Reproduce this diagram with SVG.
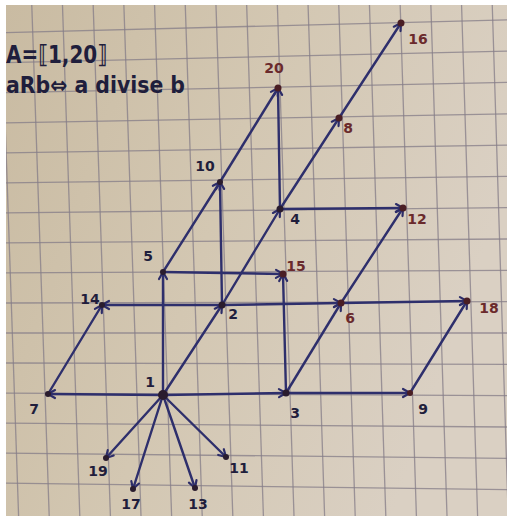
<svg xmlns="http://www.w3.org/2000/svg" width="507" height="516" viewBox="0 0 507 516">
<defs>
  <linearGradient id="paper" x1="0" y1="0" x2="1" y2="0.35">
    <stop offset="0" stop-color="#c9bba2"/>
    <stop offset="0.5" stop-color="#d3c7b2"/>
    <stop offset="1" stop-color="#dad0c3"/>
  </linearGradient>
  <clipPath id="sheet"><rect x="6" y="5" width="501" height="511"/></clipPath>
  <marker id="arr" viewBox="-10 -6 12 12" markerWidth="12" markerHeight="12" refX="0" refY="0" orient="auto" markerUnits="userSpaceOnUse">
    <path d="M-7,-4 L0,0 L-7,4" fill="none" stroke="#2c2c68" stroke-width="2.2" stroke-linecap="round" stroke-linejoin="round"/>
  </marker>
  <style>
    .grid line { stroke: #857d88; stroke-width: 1.3; opacity: 0.75; }
    .edge { stroke: #2e2f6c; stroke-width: 2.4; fill: none; stroke-linecap: round; marker-end: url(#arr); }
    .dot { fill: #2a1c2e; }
    .dotr { fill: #4a1e24; }
    .lbl { font-family: "DejaVu Sans", "Liberation Sans", sans-serif; font-size: 14px; font-weight: bold; fill: #1f1e3c; text-anchor: middle; }
    .lblr { fill: #6a2a2c; }
    .title { font-family: "DejaVu Sans", "Liberation Sans", sans-serif; font-weight: bold; fill: #1f1e3c; }
  </style>
</defs>
<rect x="0" y="0" width="507" height="516" fill="#ffffff"/>
<g clip-path="url(#sheet)">
  <rect x="6" y="5" width="501" height="511" fill="url(#paper)"/>
  <g class="grid" id="grid">
    <line x1="0.9" y1="0" x2="18.6" y2="516"/>
    <line x1="31.6" y1="0" x2="49.2" y2="516"/>
    <line x1="62.3" y1="0" x2="79.8" y2="516"/>
    <line x1="93.0" y1="0" x2="110.4" y2="516"/>
    <line x1="123.7" y1="0" x2="141.0" y2="516"/>
    <line x1="154.4" y1="0" x2="171.6" y2="516"/>
    <line x1="185.1" y1="0" x2="202.2" y2="516"/>
    <line x1="215.8" y1="0" x2="232.8" y2="516"/>
    <line x1="246.5" y1="0" x2="263.4" y2="516"/>
    <line x1="277.2" y1="0" x2="294.0" y2="516"/>
    <line x1="307.9" y1="0" x2="324.6" y2="516"/>
    <line x1="338.6" y1="0" x2="355.2" y2="516"/>
    <line x1="369.3" y1="0" x2="385.8" y2="516"/>
    <line x1="400.0" y1="0" x2="416.4" y2="516"/>
    <line x1="430.7" y1="0" x2="447.0" y2="516"/>
    <line x1="461.4" y1="0" x2="477.6" y2="516"/>
    <line x1="492.1" y1="0" x2="508.2" y2="516"/>
    <line x1="0" y1="32.8" x2="507" y2="19.8"/>
    <line x1="0" y1="62.8" x2="507" y2="51.1"/>
    <line x1="0" y1="92.8" x2="507" y2="82.4"/>
    <line x1="0" y1="122.9" x2="507" y2="113.8"/>
    <line x1="0" y1="152.9" x2="507" y2="145.1"/>
    <line x1="0" y1="182.9" x2="507" y2="176.4"/>
    <line x1="0" y1="212.9" x2="507" y2="207.7"/>
    <line x1="0" y1="242.9" x2="507" y2="239.0"/>
    <line x1="0" y1="273.0" x2="507" y2="270.4"/>
    <line x1="0" y1="303.0" x2="507" y2="301.7"/>
    <line x1="0" y1="333.0" x2="507" y2="333.0"/>
    <line x1="0" y1="363.0" x2="507" y2="364.3"/>
    <line x1="0" y1="393.0" x2="507" y2="395.6"/>
    <line x1="0" y1="423.1" x2="507" y2="427.0"/>
    <line x1="0" y1="453.1" x2="507" y2="458.3"/>
    <line x1="0" y1="483.1" x2="507" y2="489.6"/>
  </g>
  <g id="title">
    <text class="title" x="6" y="63" font-size="25" textLength="101" lengthAdjust="spacingAndGlyphs">A=⟦1,20⟧</text>
    <text class="title" x="6" y="93" font-size="23" textLength="179" lengthAdjust="spacingAndGlyphs">aRb⇔ a divise b</text>
  </g>
</g>
<g id="connectors">
  <line class="edge" x1="163" y1="395" x2="48" y2="394"/>
  <line class="edge" x1="163" y1="395" x2="286" y2="393"/>
  <line class="edge" x1="163" y1="395" x2="222" y2="305"/>
  <line class="edge" x1="163" y1="395" x2="163" y2="272"/>
  <line class="edge" x1="163" y1="395" x2="226" y2="457"/>
  <line class="edge" x1="163" y1="395" x2="195" y2="488"/>
  <line class="edge" x1="163" y1="395" x2="133" y2="489"/>
  <line class="edge" x1="163" y1="395" x2="106" y2="458"/>
  <line class="edge" x1="222" y1="305" x2="102" y2="305"/>
  <line class="edge" x1="222" y1="305" x2="341" y2="303"/>
  <line class="edge" x1="222" y1="305" x2="220" y2="182"/>
  <line class="edge" x1="222" y1="305" x2="280" y2="209"/>
  <line class="edge" x1="286" y1="393" x2="283" y2="274"/>
  <line class="edge" x1="286" y1="393" x2="341" y2="303"/>
  <line class="edge" x1="286" y1="393" x2="410" y2="393"/>
  <line class="edge" x1="280" y1="209" x2="339" y2="118"/>
  <line class="edge" x1="280" y1="209" x2="403" y2="208"/>
  <line class="edge" x1="280" y1="209" x2="278" y2="88"/>
  <line class="edge" x1="163" y1="272" x2="220" y2="182"/>
  <line class="edge" x1="163" y1="272" x2="283" y2="274"/>
  <line class="edge" x1="341" y1="303" x2="403" y2="208"/>
  <line class="edge" x1="341" y1="303" x2="467" y2="301"/>
  <line class="edge" x1="48" y1="394" x2="102" y2="305"/>
  <line class="edge" x1="339" y1="118" x2="401" y2="23"/>
  <line class="edge" x1="410" y1="393" x2="467" y2="301"/>
  <path class="edge" d="M220,182 Q252,130 278,88"/>
</g>
<g id="node-1"><circle class="dot" cx="163" cy="395" r="5"/><text class="lbl" x="150" y="387">1</text></g>
<g id="node-2"><circle class="dot" cx="222" cy="305" r="3.5"/><text class="lbl" x="233" y="319">2</text></g>
<g id="node-3"><circle class="dot" cx="286" cy="393" r="3.5"/><text class="lbl" x="295" y="418">3</text></g>
<g id="node-4"><circle class="dot" cx="280" cy="209" r="3.5"/><text class="lbl" x="295" y="224">4</text></g>
<g id="node-5"><circle class="dot" cx="163" cy="272" r="3"/><text class="lbl" x="148" y="261">5</text></g>
<g id="node-6"><circle class="dotr" cx="341" cy="303" r="3.5"/><text class="lbl lblr" x="350" y="323">6</text></g>
<g id="node-7"><circle class="dot" cx="48" cy="394" r="3"/><text class="lbl" x="34" y="414">7</text></g>
<g id="node-8"><circle class="dotr" cx="339" cy="118" r="3.5"/><text class="lbl lblr" x="348" y="133">8</text></g>
<g id="node-9"><circle class="dotr" cx="410" cy="393" r="3"/><text class="lbl" x="423" y="414">9</text></g>
<g id="node-10"><circle class="dot" cx="220" cy="182" r="3"/><text class="lbl" x="205" y="171">10</text></g>
<g id="node-11"><circle class="dot" cx="226" cy="457" r="3"/><text class="lbl" x="239" y="473">11</text></g>
<g id="node-12"><circle class="dotr" cx="403" cy="208" r="3.5"/><text class="lbl lblr" x="417" y="224">12</text></g>
<g id="node-13"><circle class="dot" cx="195" cy="488" r="3"/><text class="lbl" x="198" y="509">13</text></g>
<g id="node-14"><circle class="dot" cx="102" cy="305" r="3"/><text class="lbl" x="90" y="304">14</text></g>
<g id="node-15"><circle class="dotr" cx="283" cy="274" r="3.5"/><text class="lbl lblr" x="296" y="271">15</text></g>
<g id="node-16"><circle class="dotr" cx="401" cy="23" r="3.5"/><text class="lbl lblr" x="418" y="44">16</text></g>
<g id="node-17"><circle class="dot" cx="133" cy="489" r="3"/><text class="lbl" x="131" y="509">17</text></g>
<g id="node-18"><circle class="dotr" cx="467" cy="301" r="3.5"/><text class="lbl lblr" x="489" y="313">18</text></g>
<g id="node-19"><circle class="dot" cx="106" cy="458" r="3"/><text class="lbl" x="98" y="476">19</text></g>
<g id="node-20"><circle class="dotr" cx="278" cy="88" r="3.5"/><text class="lbl lblr" x="274" y="73">20</text></g>
</svg>
